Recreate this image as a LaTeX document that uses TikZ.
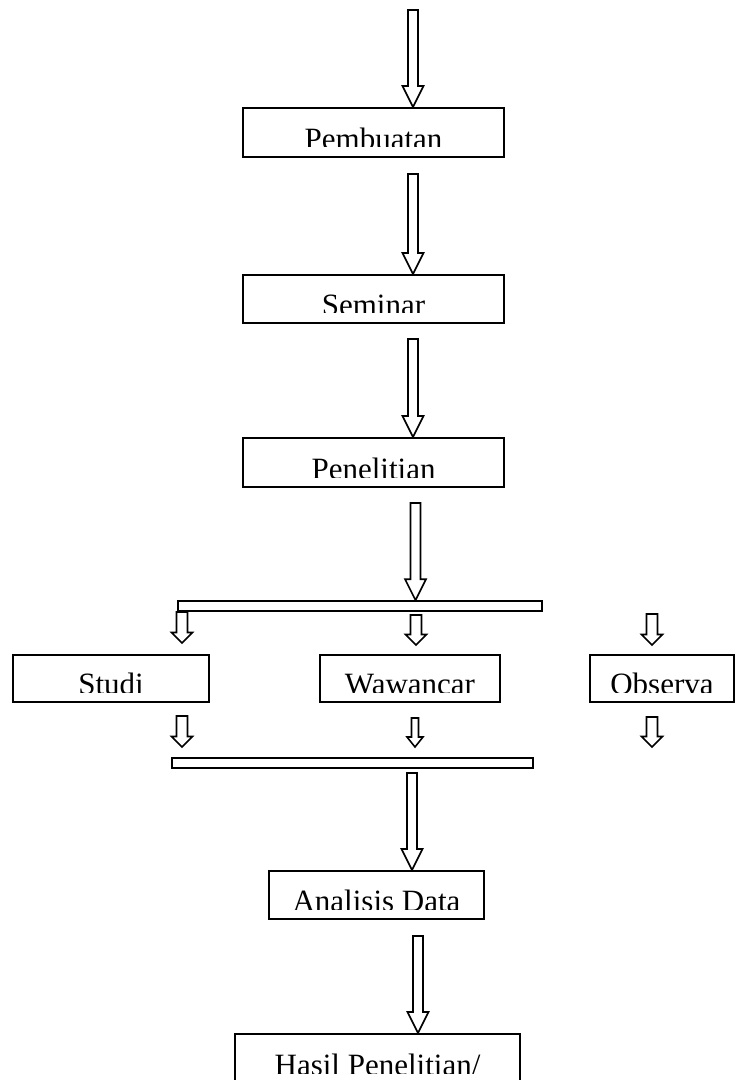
\documentclass[tikz,border=0pt]{standalone}
\usepackage{fontspec}
\setmainfont{Liberation Serif}
\usetikzlibrary{calc}

\tikzset{
	box/.style={draw, line width=1pt, inner sep=0pt},
	bar/.style={draw, line width=0.8pt, inner sep=0pt},
	arrowline/.style={draw, line width=0.8pt, line join=miter},
	lbl/.style={font=\fontsize{15.5}{18}\selectfont, inner sep=0pt, anchor=base}
}

% hollow block arrow: from, to, shaft half width, head half width, head length
\newcommand{\hollowarrow}[5]{%
	\draw[arrowline] let \p1=(#1), \p2=(#2) in
		(\x1-#3,\y1) -- (\x1-#3,\y2+#5) -- (\x1-#4,\y2+#5) -- (\x1,\y2)
		-- (\x1+#4,\y2+#5) -- (\x1+#3,\y2+#5) -- (\x1+#3,\y1) -- cycle;}
\newcommand{\bigarrow}[2]{\hollowarrow{#1}{#2}{2.5pt}{5.25pt}{10.5pt}}
\newcommand{\smallarrow}[2]{\hollowarrow{#1}{#2}{2.75pt}{5.25pt}{5.25pt}}

% text cut off a little above the bottom of its box
\newcommand{\cutlabel}[2]{%
	\begin{scope}
		\clip (#1.north west) rectangle ([yshift=5.5pt]#1.south east);
		\node[lbl] (#1-txt) at ([yshift=4.25pt]#1.south) {#2};
	\end{scope}}

\begin{document}
\begin{tikzpicture}[x=0.5pt, y=-0.5pt]

\clip (0,0) rectangle (735,1080);

% boxes
\foreach \nm/\cx/\cy/\w/\h/\txt in {
	pembuatan/373.5/132.5/261/49/Pembuatan,
	seminar/373.5/299/261/48/Seminar,
	penelitian/373.5/462.5/261/49/Penelitian,
	studi/111/678.5/196/47/Studi,
	wawancara/410/678.5/180/47/Wawancar,
	observasi/662/678.5/144/47/Observa,
	analisis/376.5/895/215/48/Analisis Data,
	hasil/377.5/1058.5/285/49/{Hasil Penelitian/}}{
	\node[box, minimum width=\w*0.5pt, minimum height=\h*0.5pt] (\nm) at (\cx,\cy) {};
	\cutlabel{\nm}{\txt}
}

% bars
\node[bar, minimum width=182pt, minimum height=5pt] (pisah) at (360,606) {};
\node[bar, minimum width=180.5pt, minimum height=5pt] (gabung) at (352.5,763) {};

% main arrows
\coordinate (a1) at (413,10);
\coordinate (a2) at (413,174);
\coordinate (a3) at (413,339);
\coordinate (a4) at (415.5,503);
\coordinate (a5) at (412,773);
\coordinate (a6) at (418,936);
\bigarrow{a1}{a1 |- pembuatan.north}
\bigarrow{a2}{a2 |- seminar.north}
\bigarrow{a3}{a3 |- penelitian.north}
\bigarrow{a4}{a4 |- pisah.north}
\bigarrow{a5}{a5 |- analisis.north}
\bigarrow{a6}{a6 |- hasil.north}

% small arrows
\foreach \nm/\x/\ya/\yb in {s1/182/612/643, s2/416/615/645, s3/652/614/645,
	t1/182/716/747, t3/652/717/747}{
	\coordinate (\nm a) at (\x,\ya);
	\coordinate (\nm b) at (\x,\yb);
	\smallarrow{\nm a}{\nm b}
}
\coordinate (t2a) at (415,718);
\coordinate (t2b) at (415,747);
\hollowarrow{t2a}{t2b}{1.75pt}{4pt}{5pt}

\end{tikzpicture}
\end{document}
